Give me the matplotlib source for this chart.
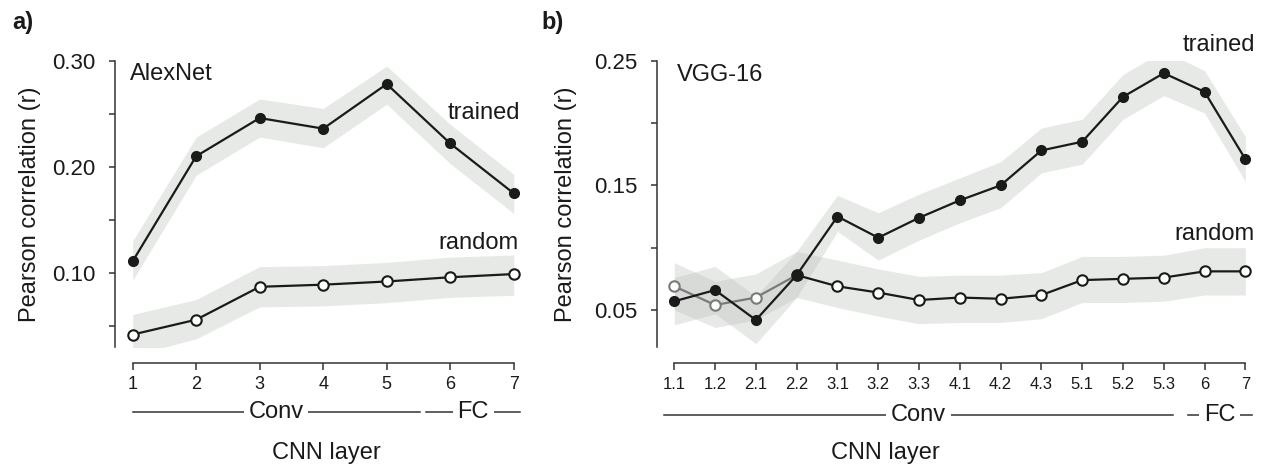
import matplotlib
matplotlib.use('Agg')
import matplotlib.pyplot as plt
from matplotlib.transforms import blended_transform_factory

# ---- data: AlexNet (panel a) ----
alex_layers = ['1', '2', '3', '4', '5', '6', '7']
alex_trained = [0.111, 0.210, 0.246, 0.236, 0.278, 0.222, 0.175]
alex_trained_lo = [0.093, 0.192, 0.228, 0.218, 0.259, 0.203, 0.156]
alex_trained_hi = [0.130, 0.228, 0.264, 0.255, 0.295, 0.240, 0.193]
alex_random = [0.042, 0.056, 0.087, 0.089, 0.092, 0.096, 0.099]
alex_random_lo = [0.022, 0.038, 0.068, 0.069, 0.072, 0.077, 0.079]
alex_random_hi = [0.061, 0.075, 0.106, 0.107, 0.110, 0.115, 0.117]

# ---- data: VGG-16 (panel b) ----
vgg_layers = ['1.1', '1.2', '2.1', '2.2', '3.1', '3.2', '3.3', '4.1', '4.2',
              '4.3', '5.1', '5.2', '5.3', '6', '7']
vgg_trained = [0.057, 0.066, 0.042, 0.078, 0.125, 0.108, 0.124, 0.138, 0.150,
               0.178, 0.185, 0.221, 0.240, 0.225, 0.171]
vgg_trained_lo = [0.038, 0.047, 0.023, 0.060, 0.113, 0.090, 0.106, 0.120, 0.132,
                  0.160, 0.167, 0.203, 0.222, 0.208, 0.153]
vgg_trained_hi = [0.076, 0.085, 0.061, 0.097, 0.142, 0.128, 0.143, 0.156, 0.169,
                  0.196, 0.203, 0.239, 0.258, 0.242, 0.189]
vgg_random = [0.069, 0.054, 0.060, 0.078, 0.069, 0.064, 0.058, 0.060, 0.059,
              0.062, 0.074, 0.075, 0.076, 0.081, 0.081]
vgg_random_lo = [0.050, 0.036, 0.042, 0.060, 0.052, 0.045, 0.039, 0.040, 0.040,
                 0.043, 0.056, 0.056, 0.057, 0.062, 0.062]
vgg_random_hi = [0.088, 0.073, 0.079, 0.097, 0.090, 0.083, 0.077, 0.078, 0.078,
                 0.080, 0.093, 0.093, 0.094, 0.100, 0.100]
vgg_gray_until = 4  # first random points drawn in gray

W, H = 1266, 467
DARK = '#1a1a1a'
GRAY = '#7a7a7a'
BAND = '#b9bdb9'

plt.rcParams['font.family'] = ['Liberation Sans', 'DejaVu Sans']

fig = plt.figure(figsize=(W / 100, H / 100), dpi=100)


def box(l, t, r, b):
    return [l / W, 1 - b / H, (r - l) / W, (b - t) / H]


def px(x, y):
    return x / W, 1 - y / H


def style_axes(ax, xlim, ylim, yticks, ylabels, ticksize, ylabel_x):
    ax.set_xlim(*xlim)
    ax.set_ylim(*ylim)
    for s in ['top', 'right']:
        ax.spines[s].set_visible(False)
    for s in ['left', 'bottom']:
        ax.spines[s].set_linewidth(1.1)
        ax.spines[s].set_color('#333333')
    ax.spines['bottom'].set_position(('outward', 11))
    ax.set_yticks(yticks)
    ax.set_yticklabels(ylabels)
    ax.tick_params(axis='y', length=4.5, width=1.1, pad=10, labelsize=16,
                   color='#333333', labelcolor=DARK)
    ax.tick_params(axis='x', length=5, width=1.1, pad=5, labelsize=ticksize,
                   color='#333333', labelcolor=DARK)
    ax.set_ylabel('Pearson correlation (r)', fontsize=17, color=DARK, va='center')
    ax.yaxis.set_label_coords(ylabel_x, 0.5)
    ax.patch.set_alpha(0)


def group_label(ax, x0, x1, text, ypx):
    tr = blended_transform_factory(ax.transData, fig.transFigure)
    y = 1 - ypx / H
    ax.plot([x0, x1], [y, y], color='#333333', lw=1.1, transform=tr, clip_on=False)
    ax.text((x0 + x1) / 2, y, text, transform=tr, ha='center', va='center',
            fontsize=17, color=DARK,
            bbox=dict(boxstyle='square,pad=0.2', fc='white', ec='none'))


# ---- panel a ----
ax_a = fig.add_axes(box(115.4, 60.7, 520, 347.3))
xa = list(range(1, len(alex_layers) + 1))
ax_a.fill_between(xa, alex_trained_lo, alex_trained_hi, color=BAND, alpha=0.33, lw=0)
ax_a.fill_between(xa, alex_random_lo, alex_random_hi, color=BAND, alpha=0.33, lw=0)
ax_a.plot(xa, alex_random, color=DARK, lw=1.6, marker='o', ms=7.5,
          mfc='white', mec=DARK, mew=1.5, zorder=3)
ax_a.plot(xa, alex_trained, color=DARK, lw=1.6, marker='o', ms=7,
          mfc=DARK, mec=DARK, zorder=4)
style_axes(ax_a, (0.729, 7.098), (0.03, 0.30),
           [0.05, 0.10, 0.15, 0.20, 0.25, 0.30],
           ['', '0.10', '', '0.20', '', '0.30'], 13, -0.211)
ax_a.set_xticks(xa)
ax_a.set_xticklabels(alex_layers)
ax_a.spines['bottom'].set_bounds(xa[0], xa[-1])
group_label(ax_a, 1.0, 5.52, 'Conv', 412)
group_label(ax_a, 5.62, 7.1, 'FC', 412)

# ---- panel b ----
ax_b = fig.add_axes(box(657.3, 60.7, 1255, 347.4))
xb = list(range(len(vgg_layers)))
ax_b.fill_between(xb, vgg_trained_lo, vgg_trained_hi, color=BAND, alpha=0.33, lw=0)
ax_b.fill_between(xb, vgg_random_lo, vgg_random_hi, color=BAND, alpha=0.33, lw=0)
g = vgg_gray_until
ax_b.plot(xb[:g], vgg_random[:g], color=GRAY, lw=1.6, marker='o', ms=7.5,
          mfc='white', mec=GRAY, mew=1.5, zorder=3)
ax_b.plot(xb[g - 1:], vgg_random[g - 1:], color=DARK, lw=1.6, marker='o', ms=7.5,
          mfc='white', mec=DARK, mew=1.5, zorder=3)
ax_b.plot(xb, vgg_trained, color=DARK, lw=1.6, marker='o', ms=7,
          mfc=DARK, mec=DARK, zorder=4)
style_axes(ax_b, (-0.417, 14.236), (0.02, 0.25),
           [0.05, 0.10, 0.15, 0.20, 0.25],
           ['0.05', '', '0.15', '', '0.25'], 12, -0.153)
ax_b.set_xticks(xb)
ax_b.set_xticklabels(vgg_layers)
ax_b.spines['bottom'].set_bounds(xb[0], xb[-1])
group_label(ax_b, -0.26, 12.23, 'Conv', 415)
group_label(ax_b, 12.59, 14.16, 'FC', 415)

# ---- text annotations ----
fig.text(*px(12, 22), 'a)', fontsize=17, fontweight='bold', va='center', color=DARK)
fig.text(*px(541, 22), 'b)', fontsize=17, fontweight='bold', va='center', color=DARK)
fig.text(*px(130, 74), 'AlexNet', fontsize=17, va='center', color=DARK)
fig.text(*px(677, 75), 'VGG-16', fontsize=17, va='center', color=DARK)
fig.text(*px(520, 113), 'trained', fontsize=17, va='center', ha='right', color=DARK)
fig.text(*px(518, 243), 'random', fontsize=17, va='center', ha='right', color=DARK)
fig.text(*px(1255, 45), 'trained', fontsize=17, va='center', ha='right', color=DARK)
fig.text(*px(1255, 234), 'random', fontsize=17, va='center', ha='right', color=DARK)
fig.text(*px(326, 453), 'CNN layer', fontsize=17, va='center', ha='center', color=DARK)
fig.text(*px(885, 453), 'CNN layer', fontsize=17, va='center', ha='center', color=DARK)

fig.savefig('out.png', dpi=100)
